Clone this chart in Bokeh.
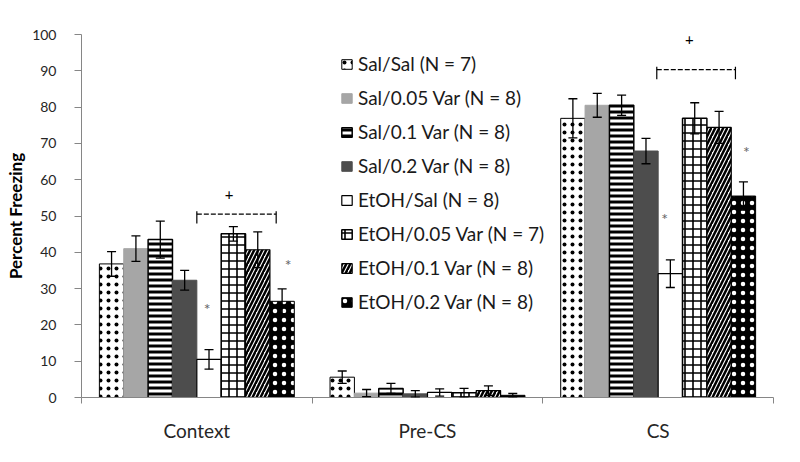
from bokeh.plotting import figure
from bokeh.models import (ColumnDataSource, Range1d, FixedTicker,
                          Whisker, TeeHead, Legend, LegendItem)
from bokeh.core.properties import value
from bokeh.embed import file_html
from bokeh.resources import INLINE

# ---------------- data ----------------
categories = ["Context", "Pre-CS", "CS"]
group_labels = ["Sal/Sal (N = 7)", "Sal/0.05 Var (N = 8)", "Sal/0.1 Var (N = 8)",
                "Sal/0.2 Var (N = 8)", "EtOH/Sal (N = 8)", "EtOH/0.05 Var (N = 7)",
                "EtOH/0.1 Var (N = 8)", "EtOH/0.2 Var (N = 8)"]

sal_sal = [36.8, 5.6, 76.9]
sal_005 = [41.0, 1.2, 80.5]
sal_01 = [43.5, 2.5, 80.5]
sal_02 = [32.3, 1.0, 67.9]
etoh_sal = [10.5, 1.4, 34.1]
etoh_005 = [45.1, 1.3, 76.9]
etoh_01 = [40.7, 1.9, 74.4]
etoh_02 = [26.5, 0.6, 55.5]

sal_sal_err = [3.4, 1.7, 5.4]
sal_005_err = [3.5, 1.0, 3.3]
sal_01_err = [5.1, 1.4, 2.8]
sal_02_err = [2.7, 0.9, 3.5]
etoh_sal_err = [2.7, 1.0, 3.8]
etoh_005_err = [2.0, 1.2, 4.3]
etoh_01_err = [4.9, 1.3, 4.4]
etoh_02_err = [3.4, 0.5, 3.9]

y_ticks = [0, 10, 20, 30, 40, 50, 60, 70, 80, 90, 100]

# significance marks (data coordinates)
star_x = [0.545, 0.896, 2.528, 2.882]
star_y = [24.5, 36.6, 49.3, 67.8]
plus_x = [0.64, 2.635]
plus_y = [55.9, 98.7]
bracket_x0 = [0.50, 2.494]
bracket_x1 = [0.844, 2.835]
bracket_y = [50.5, 90.3]

means = [sal_sal, sal_005, sal_01, sal_02, etoh_sal, etoh_005, etoh_01, etoh_02]
errs = [sal_sal_err, sal_005_err, sal_01_err, sal_02_err,
        etoh_sal_err, etoh_005_err, etoh_01_err, etoh_02_err]

# ---------------- styles ----------------
bar_styles = [
    dict(fill_color="white", hatch_pattern="dot", hatch_color="black", hatch_scale=8,
         hatch_weight=1, line_color="black", line_width=1),
    dict(fill_color="#a6a6a6", line_color="#a6a6a6", line_width=1),
    dict(fill_color="white", hatch_pattern="horizontal_line", hatch_color="black",
         hatch_scale=6, hatch_weight=3, line_color="black", line_width=1.5),
    dict(fill_color="#4d4d4d", line_color="#4d4d4d", line_width=1),
    dict(fill_color="white", line_color="black", line_width=1.2),
    dict(fill_color="white", hatch_pattern="cross", hatch_color="black", hatch_scale=8,
         hatch_weight=1.6, line_color="black", line_width=1.5),
    dict(fill_color="white", hatch_pattern="right_diagonal_line", hatch_color="black",
         hatch_scale=8, hatch_weight=2.5, line_color="black", line_width=1.2),
    dict(fill_color="black", hatch_pattern="dot", hatch_color="white", hatch_scale=9,
         hatch_weight=1.1, line_color="black", line_width=1),
]

FONT = "Lato"
n_groups = len(group_labels)
group_span = 0.845
bar_w = group_span / n_groups

p = figure(frame_width=692, frame_height=363, output_backend="svg", toolbar_location=None,
           x_range=Range1d(0, 3), y_range=Range1d(0, 100),
           min_border_left=81, min_border_top=34, min_border_right=18, min_border_bottom=56)
p.outline_line_color = None
p.xgrid.visible = False
p.ygrid.visible = False
p.background_fill_color = "white"
p.border_fill_color = "white"

items = []
for gi, (lab, m, e, st) in enumerate(zip(group_labels, means, errs, bar_styles)):
    xs = [ci + 0.5 + (gi - (n_groups - 1) / 2) * bar_w for ci in range(len(categories))]
    src = ColumnDataSource(dict(x=xs, top=m,
                                upper=[a + b for a, b in zip(m, e)],
                                lower=[a - b for a, b in zip(m, e)]))
    r = p.vbar(x="x", top="top", bottom=0, width=bar_w, source=src, **st)
    w = Whisker(base="x", upper="upper", lower="lower", source=src, level="annotation",
                line_color="black", line_width=1.3,
                upper_head=TeeHead(size=9, line_color="black", line_width=1.3),
                lower_head=TeeHead(size=9, line_color="black", line_width=1.3))
    p.add_layout(w)
    items.append(LegendItem(label=lab, renderers=[r]))

# significance annotations
p.text(x=star_x, y=star_y, text=["*"] * len(star_x), text_align="center",
       text_baseline="middle", text_font=value(FONT), text_font_size="16px",
       text_color="#666666")
p.text(x=plus_x, y=plus_y, text=["+"] * len(plus_x), text_align="center",
       text_baseline="middle", text_font=value(FONT), text_font_size="15px",
       text_color="black")
p.segment(x0=bracket_x0, y0=bracket_y, x1=bracket_x1, y1=bracket_y,
          line_color="black", line_width=1.3, line_dash="5 2")
p.segment(x0=bracket_x0 + bracket_x1, y0=[y + 0.8 for y in bracket_y] * 2,
          x1=bracket_x0 + bracket_x1, y1=[y - 2.6 for y in bracket_y] * 2,
          line_color="black", line_width=1.2)

legend = Legend(items=items, location=(259, 84), orientation="vertical",
                glyph_width=13, glyph_height=12, label_height=20, spacing=11,
                padding=0, margin=0, label_standoff=5,
                border_line_color=None, background_fill_alpha=0,
                label_text_font=FONT, label_text_font_size="19px",
                label_text_color="#1a1a1a")
p.add_layout(legend)

# axes
ya = p.yaxis[0]
ya.ticker = FixedTicker(ticks=y_ticks)
ya.axis_line_color = "#868686"
ya.major_tick_line_color = "#868686"
ya.major_tick_out = 7
ya.major_tick_in = 0
ya.minor_tick_line_color = None
ya.major_label_standoff = 18
ya.major_label_text_font = FONT
ya.major_label_text_font_size = "14px"
ya.major_label_text_color = "#262626"
ya.axis_label = "Percent Freezing"
ya.axis_label_text_font = FONT
ya.axis_label_text_font_style = "bold"
ya.axis_label_text_font_size = "17px"
ya.axis_label_text_color = "black"
ya.axis_label_standoff = 3

xa = p.xaxis[0]
xa.ticker = FixedTicker(ticks=[0.5, 1.5, 2.5], minor_ticks=[0, 1, 2, 3])
xa.major_label_overrides = {0.5: categories[0], 1.5: categories[1], 2.5: categories[2]}
xa.axis_line_color = "#868686"
xa.major_tick_line_color = None
xa.major_tick_out = 0
xa.major_tick_in = 0
xa.minor_tick_line_color = "#868686"
xa.minor_tick_out = 6
xa.minor_tick_in = 0
xa.major_label_standoff = 15
xa.major_label_text_font = FONT
xa.major_label_text_font_size = "19px"
xa.major_label_text_color = "#262626"

open("out.html", "w").write(file_html(p, INLINE))
